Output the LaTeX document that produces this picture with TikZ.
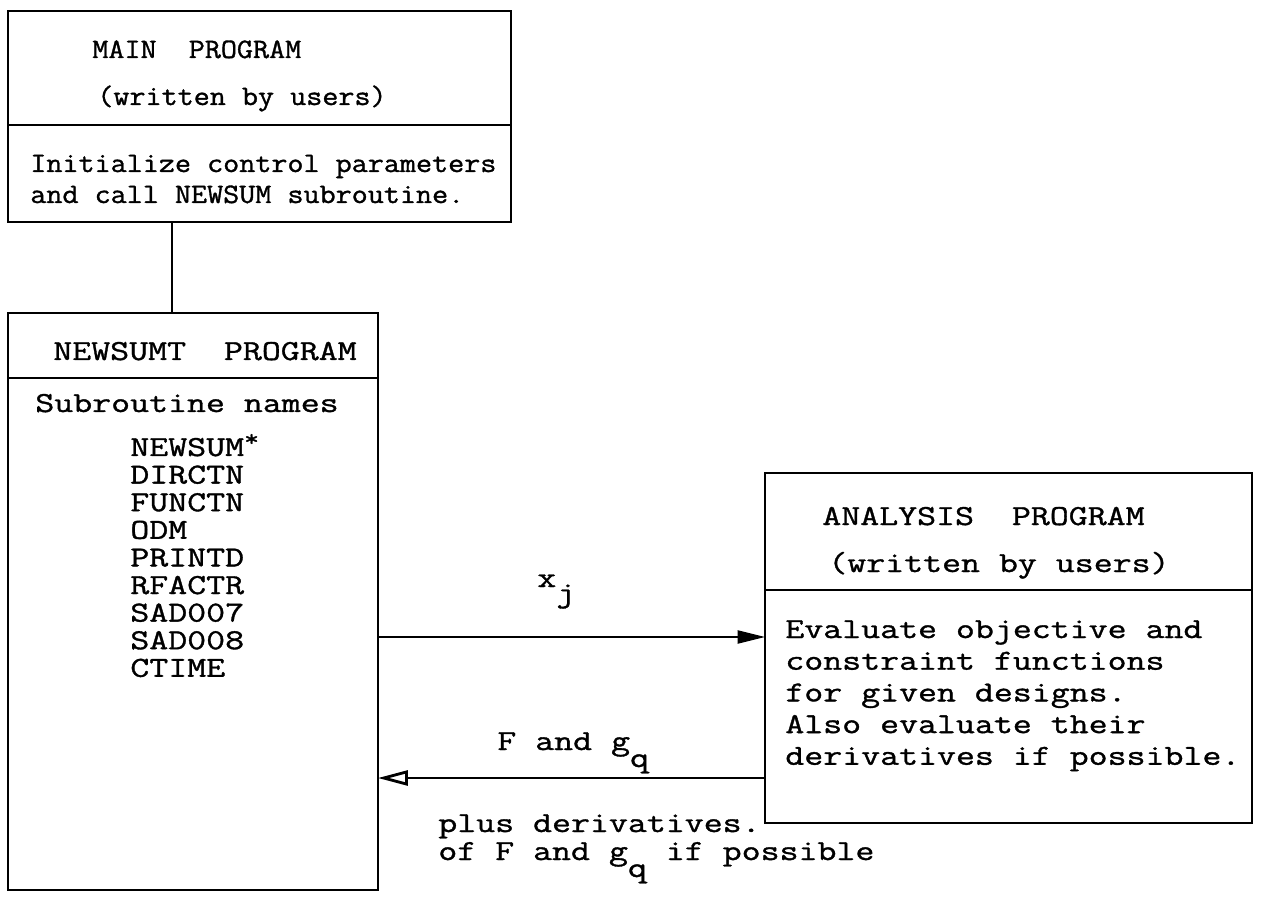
\documentclass[tikz,border=0pt]{standalone}
\usepackage{fontspec}
\newfontfamily\elitefont[FakeStretch=1.11, FakeBold=1.2]{Latin Modern Mono}
\newfontfamily\picafont[FakeStretch=1.27, FakeBold=1.2]{Latin Modern Mono}
\usetikzlibrary{arrows.meta}

\newcommand{\elite}{\elitefont\fontsize{16}{18}\selectfont}
\newcommand{\pica}{\picafont\fontsize{16.5}{18}\selectfont}
\newcommand{\lowq}{\raisebox{-0.34cm}{q}}
\newcommand{\subnote}{\raisebox{0.2cm}{\fontsize{13}{13}\selectfont *}}

\tikzset{
  box/.style={draw, line width=1.6pt, inner sep=0pt, outer sep=0pt},
  elitetext/.style={font=\elite, anchor=base west, inner sep=0pt},
  picatext/.style={font=\pica, anchor=base west, inner sep=0pt},
  link/.style={line width=1.3pt},
}

\begin{document}
\begin{tikzpicture}[x=0.02cm, y=-0.02cm]
    \useasboundingbox (0,0) rectangle (1275,915);

    % Main program
    \node[box, minimum width=10.06cm, minimum height=4.22cm] (mainbox) at (259.5,116.5) {};
    \draw[line width=1.6pt] (mainbox.west |- 0,125) -- (mainbox.east |- 0,125);
    \node[elitetext] (maintitle) at (92,58) {MAIN\ \ PROGRAM};
    \node[elitetext] (mainby) at (97,105) {(written by users)};
    \node[elitetext] (maininit) at (30,172) {Initialize control parameters};
    \node[elitetext] (maincall) at (30,203) {and call NEWSUM subroutine.};

    % NEWSUMT program
    \node[box, minimum width=7.4cm, minimum height=11.54cm] (newsumt) at (193,601.5) {};
    \draw[line width=1.6pt] (newsumt.west |- 0,378) -- (newsumt.east |- 0,378);
    \node[picatext] (newtitle) at (53,360) {NEWSUMT\ \ PROGRAM};
    \node[picatext] (newnames) at (35,412) {Subroutine names};
    \node[picatext] (sub0) at (130,456) {NEWSUM\subnote};
    \foreach \i/\name in {1/DIRCTN, 2/FUNCTN, 3/ODM, 4/PRINTD,
                          5/RFACTR, 6/SAD007, 7/SAD008, 8/CTIME} {
        \node[picatext] (sub\i) at (130,{456+27.6*\i}) {\name};
    }

    % Analysis program
    \node[box, minimum width=9.74cm, minimum height=7cm] (analysis) at (1008.5,648) {};
    \draw[line width=1.6pt] (analysis.west |- 0,590) -- (analysis.east |- 0,590);
    \node[picatext] (antitle) at (822,525) {ANALYSIS\ \ PROGRAM};
    \node[picatext] (anby) at (828,572) {(written by users)};
    \foreach \i/\txt in {0/Evaluate objective and, 1/constraint functions,
                         2/for given designs., 3/Also evaluate their,
                         4/derivatives if possible.} {
        \node[picatext] (antext\i) at (785,{638+31.7*\i}) {\txt};
    }

    % Connectors
    \coordinate (drop) at (172,0);
    \draw[link] (mainbox.south -| drop) -- (newsumt.north -| drop);
    \coordinate (xrow) at (0,637);
    \coordinate (frow) at (0,778);
    \draw[link, -{Triangle[length=0.55cm, width=0.26cm]}] (newsumt.east |- xrow) -- (analysis.west |- xrow);
    \draw[link, -{Triangle[open, length=0.6cm, width=0.3cm, line width=1.6pt]}] (analysis.west |- frow) -- (newsumt.east |- frow);
    \node[picatext] (xlabel) at (537,587) {x\raisebox{-0.3cm}{j}};
    \node[picatext] (flabel) at (497,750) {F and g\lowq};
    \node[picatext] (plus1) at (438,832) {plus derivatives.};
    \node[picatext] (plus2) at (438,860) {of F and g\lowq\ if possible};
\end{tikzpicture}
\end{document}
